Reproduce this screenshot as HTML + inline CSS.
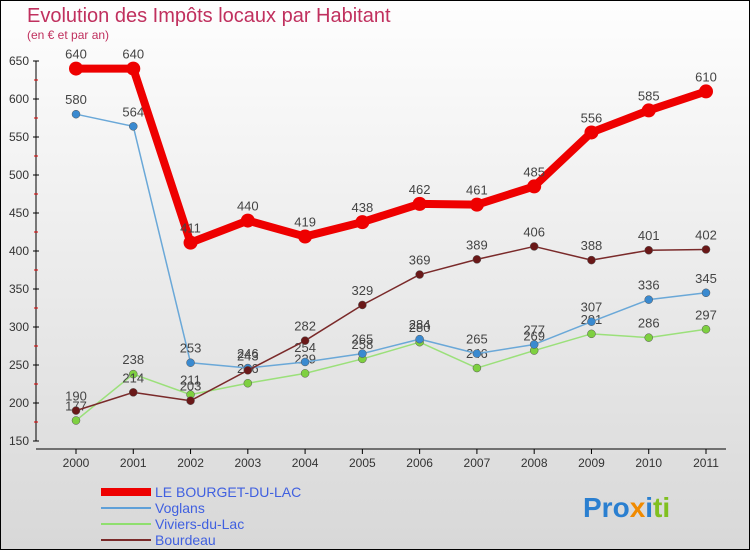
<!DOCTYPE html>
<html><head><meta charset="utf-8"><style>
body{margin:0;width:750px;height:550px;overflow:hidden;font-family:"Liberation Sans",sans-serif}
#wrap{position:relative;width:748px;height:548px;border:1px solid #000;background:linear-gradient(#fefefe,#d8d8d8)}
</style></head><body>
<div id="wrap">
<svg id="chart" width="748" height="548">
<text x="26" y="21" font-size="20" fill="#c0305e">Evolution des Impôts locaux par Habitant</text>
<text x="26" y="38" font-size="12" fill="#c0305e">(en € et par an)</text>
<g id="axes"></g><g id="series"></g>
<g>
<line x1="100" y1="491" x2="150" y2="491" stroke="#e00" stroke-width="8"/>
<text x="154" y="496" font-size="14" fill="#4060e0">LE BOURGET-DU-LAC</text>
<line x1="100" y1="507" x2="150" y2="507" stroke="#5fa0d8" stroke-width="2"/>
<text x="154" y="512" font-size="14" fill="#4060e0">Voglans</text>
<line x1="100" y1="523" x2="150" y2="523" stroke="#8fdf6f" stroke-width="2"/>
<text x="154" y="528" font-size="14" fill="#4060e0">Viviers-du-Lac</text>
<line x1="100" y1="539" x2="150" y2="539" stroke="#7a2a2a" stroke-width="2"/>
<text x="154" y="544" font-size="14" fill="#4060e0">Bourdeau</text>
</g>
<text x="582" y="516" font-size="28" font-weight="bold"><tspan fill="#2a7fd0">Pro</tspan><tspan fill="#f08a00">x</tspan><tspan fill="#2a7fd0">i</tspan><tspan fill="#80c020">ti</tspan></text>
</svg></div>
<script>
const years=[2000,2001,2002,2003,2004,2005,2006,2007,2008,2009,2010,2011];
const yTicks=[150,200,250,300,350,400,450,500,550,600,650];
const bourget=[640,640,411,440,419,438,462,461,485,556,585,610];
const voglans=[580,564,253,246,254,265,284,265,277,307,336,345];
const viviers=[177,238,211,226,239,258,280,246,269,291,286,297];
const bourdeau=[190,214,203,243,282,329,369,389,406,388,401,402];
const NS="http://www.w3.org/2000/svg";
const X=i=>75+i*(630/11), Y=v=>60+(650-v)*0.76;
function mk(t,a,p){const e=document.createElementNS(NS,t);for(const k in a)e.setAttribute(k,a[k]);p.appendChild(e);return e;}
const ax=document.getElementById('axes'),sg=document.getElementById('series');
let yl=mk('line',{x1:35,y1:Y(650),x2:35,y2:Y(150),stroke:'#000'},ax);

let xl=mk('line',{x1:35,y1:448,x2:725,y2:448,stroke:'#000'},ax);

yTicks.forEach((v,i)=>{mk('line',{x1:32,y1:Y(v),x2:38,y2:Y(v),stroke:'#000'},ax);
 if(i<yTicks.length-1)mk('line',{x1:33,y1:Y(v+25),x2:37,y2:Y(v+25),stroke:'#d00'},ax);
 const t=mk('text',{x:28,y:Y(v)+4,'font-size':12,'text-anchor':'end',fill:'#333'},ax);t.textContent=v;
 });
years.forEach((y,i)=>{mk('line',{x1:X(i),y1:448,x2:X(i),y2:453,stroke:'#000'},ax);
 const t=mk('text',{x:X(i),y:466,'font-size':12,'text-anchor':'middle',fill:'#333'},ax);t.textContent=y;
 });
function draw(d,col,w,r,name,dot){
 const p=mk('polyline',{points:d.map((v,i)=>X(i)+','+Y(v)).join(' '),fill:'none',stroke:col,'stroke-width':w,'stroke-linejoin':'round'},sg);
 
 d.forEach((v,i)=>{const c=mk('circle',{cx:X(i),cy:Y(v),r:r,fill:dot,stroke:w>3?'none':'#555','stroke-width':0.5},sg);
  
  const t=mk('text',{x:X(i),y:Y(v)-10,'font-size':13,'text-anchor':'middle',fill:'#444'},sg);t.textContent=v;
  });
}
draw(viviers,'#9be07a',1.5,4,'viviers','#7ed040');
draw(voglans,'#6aa8d8',1.5,4,'voglans','#3a8ad0');
draw(bourdeau,'#7a2a2a',1.5,4,'bourdeau','#6a1818');
draw(bourget,'#e00',8,7,'bourget','#e00');
</script></body></html>
